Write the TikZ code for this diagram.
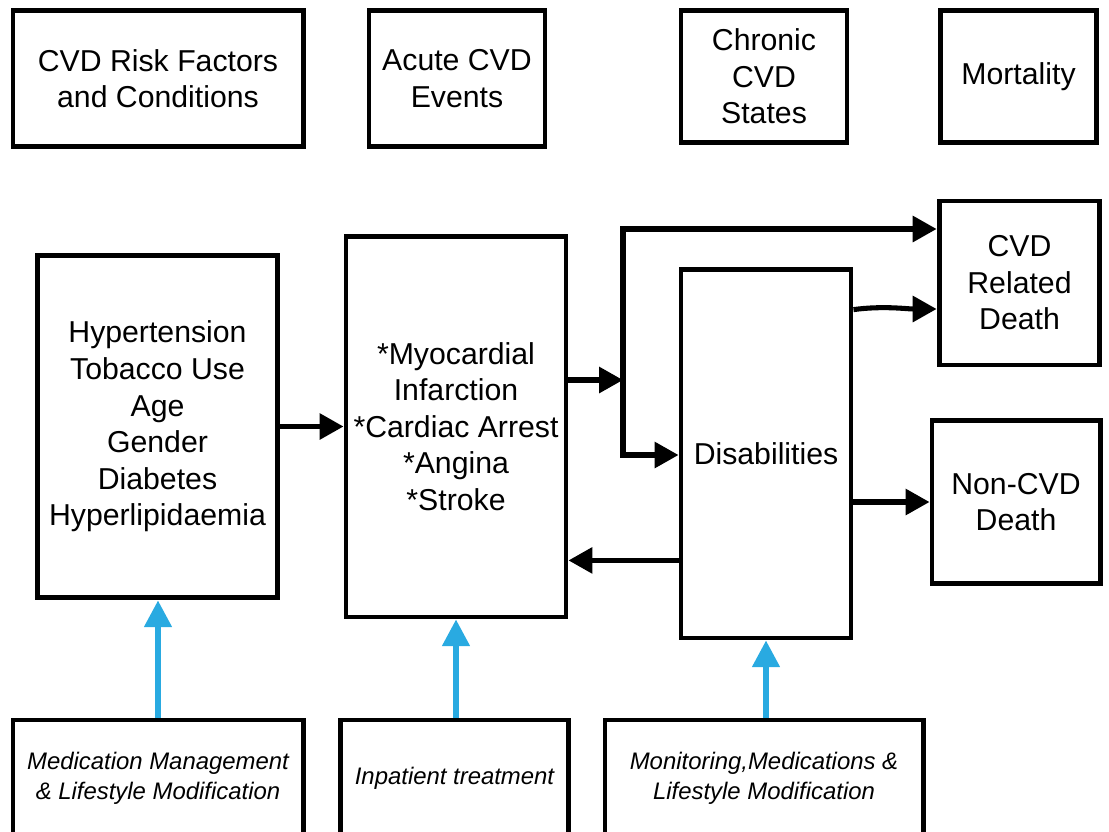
\documentclass[tikz,border=0pt]{standalone}
\usepackage{fontspec}
\setmainfont{Liberation Sans}
\usepackage{tikz}
\usepackage{xcolor}
\usetikzlibrary{
    arrows,
    arrows.meta,
    calc,
    positioning
}
\definecolor{treatblue}{RGB}{41,170,225}
\tikzset{
    box/.style={draw, line width=3.5pt, align=center, inner sep=0pt,
        font=\fontsize{21.5}{26}\selectfont},
    carebox/.style={box, font=\fontsize{17}{21.3}\selectfont\itshape},
    blk/.tip={Triangle[length=17pt, width=18pt]},
    flow/.style={line width=3.6pt, -blk},
    care/.style={line width=4pt, treatblue, -{Triangle[length=19pt, width=19pt]}}
}

\begin{document}
\begin{tikzpicture}[x=0.025cm, y=-0.025cm]
    \useasboundingbox (0, 0) rectangle (1109, 831);
    % headings
    \node[box, minimum width=7.25cm, minimum height=3.42cm] (hRisk) at (158, 78.5) {CVD Risk Factors\\and Conditions};
    \node[box, minimum width=4.4cm, minimum height=3.42cm] (hAcute) at (457, 78.5) {Acute CVD\\Events};
    \node[box, minimum width=4.15cm, minimum height=3.32cm] (hChronic) at (764, 76.5) {Chronic\\CVD\\States};
    \node[box, minimum width=3.92cm, minimum height=3.32cm] (hMort) at (1018.5, 76.5) {Mortality};
    % states
    \node[box, minimum width=6.02cm, minimum height=8.57cm] (risk) at (157.5, 426.5) {Hypertension\\Tobacco Use\\Age\\Gender\\Diabetes\\Hyperlipidaemia};
    \node[box, minimum width=5.5cm, minimum height=9.52cm] (acute) at (456, 426.5) {*Myocardial\\Infarction\\*Cardiac Arrest\\*Angina\\*Stroke};
    \node[box, minimum width=4.25cm, minimum height=9.22cm] (dis) at (766, 453.5) {Disabilities};
    \node[box, minimum width=4.02cm, minimum height=4.1cm] (cvd) at (1019.5, 283) {CVD\\Related\\Death};
    \node[box, minimum width=4.2cm, minimum height=4.07cm] (noncvd) at (1016, 502) {Non-CVD\\Death};
    % care
    \node[carebox, minimum width=7.25cm, minimum height=2.9cm] (med) at (158, 778) {Medication Management\\\& Lifestyle Modification};
    \node[carebox, minimum width=5.68cm, minimum height=2.9cm] (inpat) at (454.5, 778) {Inpatient treatment};
    \node[carebox, minimum width=7.95cm, minimum height=2.9cm] (mon) at (764, 778) {Monitoring,Medications \&\\Lifestyle Modification};

    \coordinate (split) at (623, 380);
    \coordinate (splitTop) at (623, 229);
    \coordinate (splitBot) at (623, 455);
    \coordinate (back) at ($(dis.south west)+(0, -80)$);
    \coordinate (relFrom) at ($(dis.north east)+(0, 43)$);
    \coordinate (relTo) at ($(cvd.west)+(0, 26)$);

    \draw[flow] (risk.east) -- (risk.east -| acute.west);
    \draw[flow] (acute.east |- split) -- (split);
    \draw[line width=3.6pt, blk-blk] (cvd.west |- splitTop) -| (splitBot) -- (dis.west |- splitBot);
    \draw[flow] (relFrom) .. controls +(30, -4) and +(-30, 0) .. (relTo);
    \draw[flow] (dis.east |- noncvd.west) -- (noncvd.west);
    \draw[flow] (back) -- (acute.east |- back);

    \draw[care] (med.north) -- (med.north |- risk.south);
    \draw[care] (inpat.north -| acute.south) -- (acute.south);
    \draw[care] (mon.north -| dis.south) -- (dis.south);
\end{tikzpicture}
\end{document}
